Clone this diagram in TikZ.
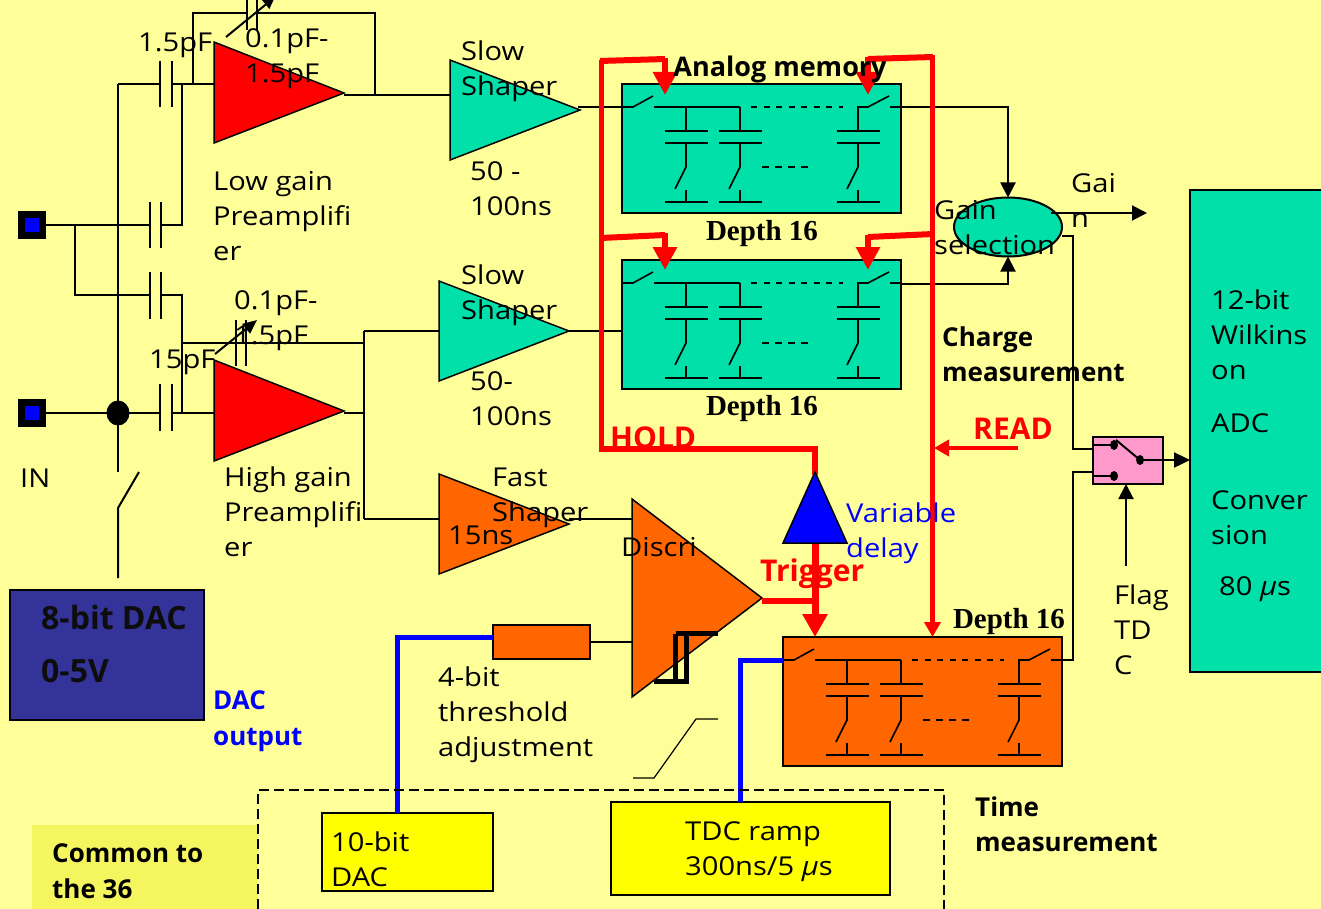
\documentclass[tikz,border=0pt]{standalone}
\usepackage{fontspec}
\setmainfont{Open Sans}[FakeStretch=1.12,BoldFeatures={FakeStretch=1.0}]
\newfontfamily\depthfont{Liberation Serif}
\usetikzlibrary{arrows.meta,shapes.geometric}
\definecolor{bgy}{HTML}{FFFF99}
\definecolor{teal1}{HTML}{00E0A8}
\definecolor{org}{HTML}{FF6600}
\definecolor{navy1}{HTML}{333399}
\definecolor{pink1}{HTML}{FF99CC}
\definecolor{comm}{HTML}{F5F55F}
\definecolor{yel}{RGB}{255,255,0}
\definecolor{redc}{RGB}{255,0,0}
\tikzset{
  lbl/.style={anchor=west,inner sep=0pt,font=\fontsize{26}{35}\selectfont,align=left,text=black},
  blbl/.style={lbl,font=\fontsize{26}{35.5}\selectfont\bfseries},
  rlbl/.style={lbl,font=\fontsize{30}{35.5}\selectfont\bfseries,text=redc},
  depth/.style={inner sep=0pt,font=\fontsize{29}{32}\selectfont\depthfont\bfseries},
  thin wire/.style={draw=black,line width=1.2pt},
  sig/.style={draw=black,line width=2pt},
  amp/.style={draw=black,line width=1.5pt},
  redl/.style={draw=redc,line width=6pt},
  red arr/.style={draw=redc,line width=6pt,-{Triangle[length=23pt,width=23pt]}},
  bluel/.style={draw=blue,line width=5pt},
  blk arr/.style={draw=black,line width=2pt,-{Triangle[length=15pt,width=15pt]}},
  boxn/.style={draw=black,line width=2pt,inner sep=0pt,outer sep=0pt,anchor=north west,minimum width=#1},
  cell/.style={line width=1.6pt,draw=black},
}
% memory block: name, x, y, fill
\newcommand{\memblock}[4]{%
  \node[boxn=279pt,minimum height=129pt,fill=#4] (#1) at (#2,#3) {};
  \begin{scope}[shift={(#2,#3)}]
    \draw[cell] (0,23) -- (11,23) -- (31,12);
    \draw[cell] (32,23) -- (118,23);
    \draw[cell,dash pattern=on 6pt off 6.5pt] (129,23) -- (221,23);
    \draw[cell] (267,12) -- (246,23) -- (236,23) -- (236,47);
    \draw[cell] (268,23) -- (279,23);
    \foreach \cx in {64,118,236}{
      \draw[cell] (\cx,23) -- (\cx,47);
      \draw[cell] (\cx-21.5,47) -- (\cx+21.5,47);
      \draw[cell] (\cx-21.5,59) -- (\cx+21.5,59);
      \draw[cell] (\cx,59) -- (\cx,83) -- (\cx-11,105);
      \draw[cell] (\cx,106) -- (\cx,118);
      \draw[cell] (\cx-21.5,118) -- (\cx+21.5,118);
    }
    \draw[cell,dash pattern=on 7pt off 6pt] (140,83) -- (191,83);
  \end{scope}}
\begin{document}
\begin{tikzpicture}[x=1pt,y=-1pt]
\useasboundingbox (0,0) rectangle (1321,909);
\clip (0,0) rectangle (1321,909);
\fill[bgy] (0,0) rectangle (1321,909);

% input pads
\node[draw=black,line width=7pt,fill=blue,minimum size=21pt,inner sep=0pt] (padA) at (32,225) {};
\node[draw=black,line width=7pt,fill=blue,minimum size=21pt,inner sep=0pt] (padB) at (32,413) {};
\node[fill=black,ellipse,minimum width=23pt,minimum height=25pt,inner sep=0pt] (dot) at (118,413) {};

% coordinates
\coordinate (ampAin) at (214,84);
\coordinate (ampBin) at (214,413);

% input wiring
\draw[sig] (padA.east) -- (150,225) (161,225) -- (182,225) -- (182,84);
\draw[sig] (75,225) -- (75,295) -- (150,295) (161,295) -- (182,295) -- (182,413);
\draw[sig] (118,84) -- (118,472);
\draw[sig] (118,84) -- (160,84) (172,84) -- (ampAin);
\draw[sig] (padB.east) -- (160,413) (172,413) -- (ampBin);
\draw[sig] (118,578) -- (118,508) -- (139,472);
% input caps
\draw[sig] (150,202) -- (150,248) (161,202) -- (161,248);
\draw[sig] (150,272) -- (150,319) (161,272) -- (161,319);
\draw[sig] (160,61) -- (160,107) (172,61) -- (172,107);
\draw[sig] (160,384) -- (160,431) (172,384) -- (172,431);
% feedback
\draw[sig] (193,84) -- (193,13) -- (247,13) (257,13) -- (375,13) -- (375,95);
\draw[sig] (247,0) -- (247,30) (257,0) -- (257,30);
\draw[line width=2pt,-{Triangle[length=12pt,width=11pt]}] (226,37) -- (275,-3);
\draw[sig] (182,343) -- (364,343);
\draw[sig] (236,320) -- (236,366) (246,320) -- (246,366);
\draw[line width=2pt,-{Triangle[length=14pt,width=12pt]}] (215,354) -- (257,320);
\draw[sig] (364,331) -- (364,519);

% amplifiers
\draw[amp,fill=redc] (214,42) -- (214,143) -- (344,93) -- cycle;
\draw[amp,fill=redc] (214,360) -- (214,461) -- (344,411) -- cycle;
% shapers
\draw[sig] (344,95) -- (450,95);
\draw[sig] (344,413) -- (364,413);
\draw[sig] (364,331) -- (439,331);
\draw[sig] (364,519) -- (439,519);
\draw[thin wire] (578,107) -- (622,107);
\draw[thin wire] (567,331) -- (622,331);
\draw[amp,fill=teal1] (450,60) -- (450,160) -- (580,110) -- cycle;
\draw[amp,fill=teal1] (439,281) -- (439,381) -- (569,331) -- cycle;
\draw[amp,fill=org] (439,474) -- (439,574) -- (569,524) -- cycle;

% memory
\memblock{memA}{622}{84}{teal1}
\memblock{memB}{622}{260}{teal1}
\memblock{memC}{783}{637}{org}

% gain selection
\node[draw=black,line width=2pt,fill=teal1,ellipse,minimum width=108pt,minimum height=59pt,inner sep=0pt,outer sep=0pt] (gain) at (1008,227) {};
\draw[blk arr] (901,107) -- (1008,107) -- (gain.north);
\draw[blk arr] (901,284) -- (1008,284) -- (gain.south);
\coordinate (gainout) at (1147,213);
\draw[blk arr] (1051,213) -- (gainout);

% ADC, switch
\node[boxn=140pt,minimum height=482pt,fill=teal1] (adc) at (1190,190) {};
\node[draw=black,line width=2pt,fill=pink1,minimum width=70pt,minimum height=47pt,inner sep=0pt,outer sep=0pt,anchor=north west] (swb) at (1093,437) {};
\draw[sig] (1062,236) -- (1073,236) -- (1073,449) -- (1093,449);
\draw[sig] (1062,660) -- (1073,660) -- (1073,472) -- (1093,472);
\node[fill=black,ellipse,minimum width=8pt,minimum height=10pt,inner sep=0pt] (swA) at (1114,445) {};
\node[fill=black,ellipse,minimum width=8pt,minimum height=10pt,inner sep=0pt] (swB) at (1114,476) {};
\node[fill=black,ellipse,minimum width=8pt,minimum height=10pt,inner sep=0pt] (swC) at (1140,460) {};
\draw[sig] (1093,445) -- (swA.center) (1093,476) -- (swB.center);
\draw[sig] (1116,440) -- (swC.center);
\draw[line width=2.4pt,-{Triangle[length=16pt,width=15pt]}] (swC.center) -- (adc.west |- swC);
\coordinate (flag) at (1126,566);
\draw[blk arr] (flag) -- (swb.south -| flag);

% discriminator
\draw[thin wire] (569,519) -- (632,519);
\draw[amp,fill=org] (632,499) -- (632,697) -- (762,598) -- cycle;
\node[draw=black,line width=1.5pt,fill=org,minimum width=97pt,minimum height=34pt,inner sep=0pt,outer sep=0pt,anchor=north west] (thr) at (493,625) {};
\draw[sig] (thr.east) -- (632,642);
\draw[line width=5pt] (718,633.5) -- (676,633.5) (675,634) -- (675,680) (686,634) -- (686,681) -- (654,681);
% slanted pulse
\draw[thin wire] (633,778) -- (654,778) -- (696,719) -- (718,719);

% red lines
\draw[draw=redc,line width=5pt] (601,60) -- (601,451);
\draw[redl] (600,61) -- (665,59);
\draw[red arr] (665,58) -- (665,95);
\draw[redl] (601,238) -- (665,235);
\draw[red arr] (665,233) -- (665,270);
\draw[redl] (868,59) -- (933,57);
\draw[red arr] (868,57) -- (868,95);
\draw[redl] (868,237) -- (933,234);
\draw[red arr] (868,235) -- (868,270);
\draw[draw=redc,line width=5pt] (932.5,55) -- (932.5,420);
\draw[draw=redc,line width=4.5pt,-{Triangle[length=15pt,width=16pt]}] (932.5,420) -- (932.5,637);
\draw[draw=redc,line width=4pt,-{Triangle[length=15pt,width=16pt]}] (1018,448) -- (934,448);
\draw[redl] (599,449) -- (815,449) -- (815,475);
\draw[amp,fill=blue] (815,472) -- (783,543) -- (847,543) -- cycle;
\draw[draw=redc,line width=7pt,-{Triangle[length=23pt,width=24pt]}] (815,544) -- (815,637);
\draw[redl] (762,601) -- (815,601);

% boxes, blue lines
\node[draw=black,line width=1.5pt,fill=yel,inner sep=0pt,outer sep=0pt,anchor=north west,minimum width=171pt,minimum height=78pt] (dac10) at (322,813) {};
\node[draw=black,line width=1.5pt,fill=yel,inner sep=0pt,outer sep=0pt,anchor=north west,minimum width=279pt,minimum height=93pt] (tdc) at (611,802) {};
\draw[bluel] (397,813) -- (397,637) -- (493,637);
\draw[bluel] (740,802) -- (740,660) -- (783,660);

% DAC, common
\node[draw=black,line width=1.5pt,fill=navy1,inner sep=0pt,outer sep=0pt,anchor=north west,minimum width=194pt,minimum height=130pt] (dac8) at (10,590) {};
\fill[comm] (32,825) rectangle (258,909);
\draw[line width=1.4pt,dash pattern=on 10pt off 5pt] (258,909) -- (258,790) -- (944,790) -- (944,909);

% labels
\node[lbl] (t1) at (138,45) {1.5pF};
\node[lbl] (t2) at (245,59) {0.1pF-\\1.5pF};
\node[lbl] (t3) at (461,71) {Slow\\Shaper};
\node[lbl] (t4) at (470,189) {50 -\\100ns};
\node[lbl] (t5) at (213,216) {Low gain\\Preamplifi\\er};
\node[lbl] (t6) at (461,295) {Slow\\Shaper};
\node[lbl] (t7) at (470,399) {50-\\100ns};
\node[lbl] (t8) at (234,321) {0.1pF-\\1.5pF};
\node[lbl] (t9) at (149,362) {15pF};
\node[lbl] (t10) at (20,478) {IN};
\node[lbl] (t11) at (224,512) {High gain\\Preamplifi\\er};
\node[lbl] (t12) at (492,498) {Fast\\Shaper};
\node[lbl] (t13) at (448,535) {15ns};
\node[lbl] (t14) at (621,547) {Discri};
\node[lbl] (t15) at (438,715) {4-bit\\threshold\\adjustment};
\node[lbl,text=blue] (t16) at (846,533.5) {Variable\\delay};
\node[lbl] (t17) at (1071,200) {Gai\\n};
\node[lbl] (t18) at (934,228) {Gain\\selection};
\node[lbl] (t19) at (1211,335) {12-bit\\Wilkins\\on};
\node[lbl] (t20) at (1211,423) {ADC};
\node[lbl] (t21) at (1211,518) {Conver\\sion};
\node[lbl] (t22) at (1219,589) {80 \textit{μ}s};
\node[lbl] (t23) at (1114,630) {Flag\\TD\\C};
\node[lbl] (t24) at (331,859) {10-bit\\DAC};
\node[lbl] (t25) at (685,851.5) {TDC ramp\\300ns/5 \textit{μ}s};
\node[blbl] (t26) at (52,871) {Common to\\the 36};
\node[blbl] (t27) at (975,824) {Time\\measurement};
\node[blbl] (t28) at (942,354) {Charge\\measurement};
\node[blbl,text=blue] (t29) at (213,721) {DAC\\output};
\node[blbl,text=black!95,font=\fontsize{32}{35.5}\selectfont\bfseries] (t30) at (41,644) {8-bit DAC\\[17pt]0-5V};
\node[blbl,anchor=center,font=\fontsize{27}{32}\selectfont\bfseries] (t31) at (780,69) {Analog memory};
\node[rlbl] (t32) at (610,438) {HOLD};
\node[rlbl] (t33) at (973,429) {READ};
\node[rlbl] (t34) at (760,574) {Trigger};
\node[depth] (d1) at (762,234) {Depth 16};
\node[depth] (d2) at (762,409) {Depth 16};
\node[depth] (d3) at (1009,622) {Depth 16};
\end{tikzpicture}
\end{document}
